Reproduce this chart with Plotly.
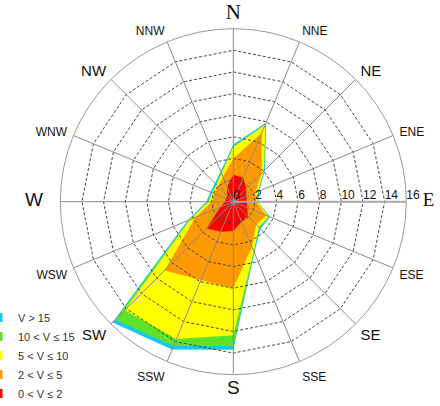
import plotly.graph_objects as go

# ---------------- data ----------------
directions = ["N", "NNE", "NE", "ENE", "E", "ESE", "SE", "SSE",
              "S", "SSW", "SW", "WSW", "W", "WNW", "NW", "NNW"]

# cumulative frequency (%) reached at the outer edge of each speed band
edge_0_2   = [2.5, 2.4, 1.7, 1.3, 1.25, 1.4, 1.9, 2.0, 2.7, 3.0, 3.5, 1.3, 0.75, 0.75, 0.8, 1.5]
edge_2_5   = [4.0, 6.9, 3.7, 2.2, 2.1, 3.3, 3.0, 4.5, 8.0, 7.85, 9.0, 3.8, 2.0, 1.9, 2.0, 2.5]
edge_5_10  = [5.05, 7.7, 4.0, 2.45, 2.22, 3.55, 3.35, 4.95, 12.35, 13.75, 14.2, 4.35, 2.3, 2.1, 2.2, 2.85]
edge_10_15 = [5.1, 7.75, 4.05, 2.5, 2.25, 3.6, 3.4, 5.0, 13.35, 14.45, 15.45, 4.4, 2.35, 2.15, 2.25, 2.9]
edge_gt_15 = [5.3, 7.9, 4.15, 2.6, 2.3, 3.7, 3.55, 5.1, 13.7, 14.8, 15.8, 4.6, 2.5, 2.3, 2.4, 3.05]

band_names = ["V &gt; 15", "10 &lt; V ≤ 15", "5 &lt; V ≤ 10", "2 &lt; V ≤ 5", "0 &lt; V ≤ 2"]
band_edges = [edge_gt_15, edge_10_15, edge_5_10, edge_2_5, edge_0_2]
band_colors = ["#14c8ee", "#5fe22a", "#ffff00", "#ff9900", "#ff0000"]

radial_ticks = [0, 2, 4, 6, 8, 10, 12, 14, 16]

# ---------------- figure ----------------
fig = go.Figure()

closed_theta = directions + directions[:1]

for name, edge, color in zip(band_names, band_edges, band_colors):
    fig.add_trace(go.Scatterpolar(
        r=edge + edge[:1], theta=closed_theta, mode="lines",
        fill="toself", fillcolor=color, line=dict(width=0, color=color),
        showlegend=False, hoverinfo="skip"))

# dashed polygonal rings
for t in radial_ticks[1:-1]:
    fig.add_trace(go.Scatterpolar(
        r=[t] * (len(directions) + 1), theta=closed_theta, mode="lines",
        line=dict(color="#444444", width=1, dash="3px,2px"),
        showlegend=False, hoverinfo="skip"))

# spokes
sr, st = [], []
for d in directions:
    sr += [0, radial_ticks[-1], None]
    st += [d, d, None]
fig.add_trace(go.Scatterpolar(r=sr, theta=st, mode="lines",
                              line=dict(color="#8a8a8a", width=1),
                              showlegend=False, hoverinfo="skip"))

# radial tick labels, just above / right of each tick along the E axis
fig.add_trace(go.Scatterpolar(
    r=radial_ticks, theta=[directions[4]] * len(radial_ticks), mode="text",
    text=[str(v) for v in radial_ticks], textposition="top right",
    textfont=dict(size=12, color="#111111"), cliponaxis=False,
    showlegend=False, hoverinfo="skip"))

# legend entries
for name, color in zip(band_names, band_colors):
    fig.add_trace(go.Scatterpolar(r=[None], theta=[directions[0]], mode="markers",
                                  marker=dict(symbol="square", size=9, color=color),
                                  name=name))

NB = "\u00a0"


def tick_html(d):
    if d == "N":
        return f'<span style="font-size:21px;font-family:Liberation Serif">{d}</span>'
    if d == "E":
        return f'<span style="font-size:19px;font-family:Liberation Serif">{NB * 2}{d}</span>'
    if d == "W":
        return f'<span style="font-size:19px">{d}{NB * 2}</span>'
    if len(d) == 1:
        return f'<span style="font-size:19px">{d}</span>'
    if len(d) == 2:
        return f'<span style="font-size:15px">{d}</span>'
    return f'<span style="font-size:12px">{d}</span>'


W, H = 440, 406
cx, cy, R = 233.3, 201.7, 173.0

fig.update_layout(
    width=W, height=H,
    margin=dict(l=0, r=0, t=0, b=0, autoexpand=False),
    paper_bgcolor="white",
    font=dict(family="Liberation Sans, Arial, sans-serif", color="#111111"),
    polar=dict(
        domain=dict(x=[(cx - R) / W, (cx + R) / W],
                    y=[1 - (cy + R) / H, 1 - (cy - R) / H]),
        bgcolor="white",
        radialaxis=dict(range=[0, 16], tickvals=radial_ticks,
                        angle=0, showticklabels=False,
                        showgrid=False, showline=True, linecolor="#aaaaaa", linewidth=2,
                        ticks=""),
        angularaxis=dict(type="category", categoryarray=directions,
                         direction="clockwise", rotation=90,
                         tickvals=directions, ticktext=[tick_html(d) for d in directions],
                         showgrid=False, showline=True, linecolor="#999999", linewidth=1,
                         ticks="outside", ticklen=4, tickcolor="rgba(0,0,0,0)",
                         tickfont=dict(size=12, color="#111111")),
    ),
    legend=dict(x=-22 / W, xanchor="left", y=1 - 303 / H, yanchor="top",
                font=dict(size=11, color="#333333"), bgcolor="rgba(0,0,0,0)"),
)

fig.write_html("out.html", config={"displayModeBar": False},
               post_script="document.body.style.margin='0';document.body.style.overflow='hidden';")
